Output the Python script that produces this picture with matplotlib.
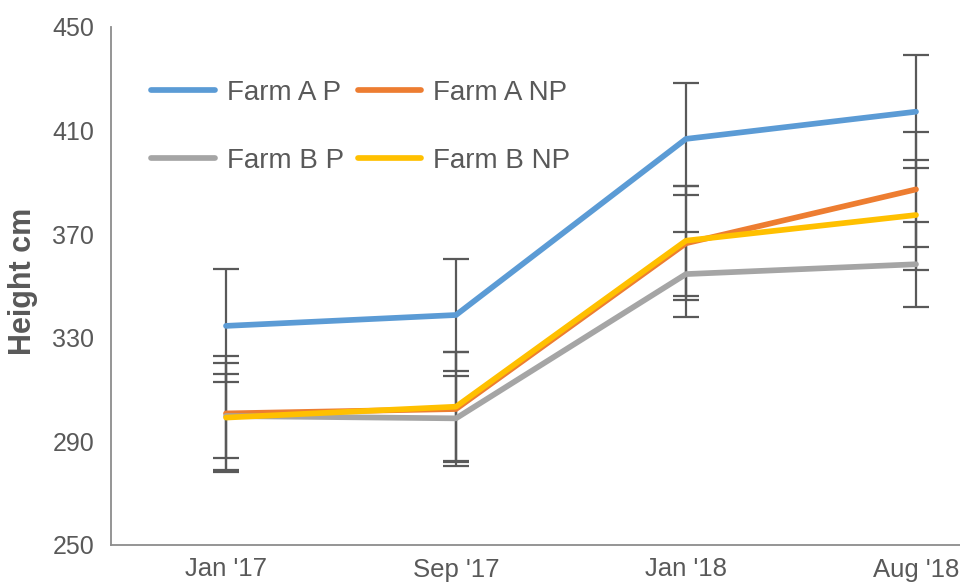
import matplotlib
matplotlib.use("Agg")
import matplotlib.pyplot as plt

plt.rcParams['font.family'] = ['Liberation Sans', 'DejaVu Sans']

dates = ["Jan '17", "Sep '17", "Jan '18", "Aug '18"]
series_names = ["Farm A P", "Farm A NP", "Farm B P", "Farm B NP"]
farm_a_p = [334.6, 338.8, 406.8, 417.3]
farm_a_np = [300.8, 302.5, 366.5, 387.3]
farm_b_p = [299.8, 298.9, 354.6, 358.4]
farm_b_np = [299.2, 303.4, 367.5, 377.4]
err_a_p = [21.8, 21.6, 21.5, 21.9]
err_a_np = [22.0, 22.0, 22.0, 22.1]
err_b_p = [16.4, 16.4, 16.4, 16.4]
err_b_np = [21.0, 21.2, 21.2, 21.1]
colors = ["#5B9BD5", "#ED7D31", "#A5A5A5", "#FFC000"]

values = [farm_a_p, farm_a_np, farm_b_p, farm_b_np]
errors = [err_a_p, err_a_np, err_b_p, err_b_np]

fig = plt.figure(figsize=(9.6, 5.84), dpi=100)
ax = fig.add_axes([111/960, 39/584, 920/960, 518/584])

x = list(range(len(dates)))
handles = []
for vals, errs in zip(values, errors):
    ax.errorbar(x, vals, yerr=errs, fmt='none', ecolor='#595959',
                elinewidth=1.6, capsize=9.5, capthick=1.6, zorder=2)
for vals, c, name in zip(values, colors, series_names):
    h, = ax.plot(x, vals, color=c, lw=4.1, solid_capstyle='round',
                 solid_joinstyle='round', label=name, zorder=3)
    handles.append(h)

ax.set_xlim(-0.5, 3.5)
ax.set_ylim(250, 450)
ax.set_yticks([250, 290, 330, 370, 410, 450])
ax.set_xticks(x)
ax.set_xticklabels(dates)
ax.tick_params(axis='both', length=0, labelcolor='#595959')
ax.tick_params(axis='y', pad=12, labelsize=18)
ax.tick_params(axis='x', pad=9, labelsize=18.5)
for s in ['top', 'right']:
    ax.spines[s].set_visible(False)
for s in ['left', 'bottom']:
    ax.spines[s].set_color('#8C8C8C')
    ax.spines[s].set_linewidth(1.3)

fig.text(23/960, 1 - 281/584, "Height cm", rotation=90, ha='center', va='center',
         fontsize=22, fontweight='bold', color='#595959')

# matplotlib fills legend column-first; order so rows read A P, A NP / B P, B NP
order = [0, 2, 1, 3]
leg = ax.legend(handles=[handles[i] for i in order], ncol=2, loc='upper left',
                bbox_to_anchor=(151/960, 1 - 80/584), bbox_transform=fig.transFigure,
                frameon=False, fontsize=20, handlelength=2.3, handletextpad=0.42,
                columnspacing=0.5, labelspacing=1.5, borderpad=0, borderaxespad=0)
for t in leg.get_texts():
    t.set_color('#595959')

fig.savefig("out.png", dpi=100)
